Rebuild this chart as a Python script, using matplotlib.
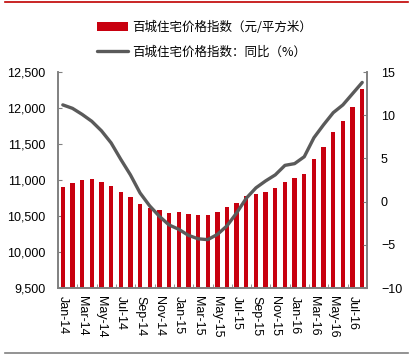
"""Recreation of the 100-city house price index chart."""
import numpy as np
from matplotlib import pyplot as plt
from matplotlib.lines import Line2D

plt.rcParams["font.family"] = ["Liberation Sans", "Noto Sans CJK SC", "DejaVu Sans"]

# months Jan-14 .. Aug-16
months = [
    "Jan-14", "Feb-14", "Mar-14", "Apr-14", "May-14", "Jun-14", "Jul-14", "Aug-14",
    "Sep-14", "Oct-14", "Nov-14", "Dec-14", "Jan-15", "Feb-15", "Mar-15", "Apr-15",
    "May-15", "Jun-15", "Jul-15", "Aug-15", "Sep-15", "Oct-15", "Nov-15", "Dec-15",
    "Jan-16", "Feb-16", "Mar-16", "Apr-16", "May-16", "Jun-16", "Jul-16", "Aug-16",
]

# price index, yuan / m2
price = [
    10899, 10954, 11000, 11014, 10972, 10917, 10829, 10768,
    10667, 10615, 10583, 10537, 10556, 10532, 10518, 10514,
    10560, 10620, 10676, 10778, 10810, 10838, 10893, 10972,
    11023, 11088, 11296, 11463, 11667, 11815, 12009, 12269,
]

# year on year change, %
yoy = [
    11.2, 10.8, 10.1, 9.3, 8.2, 6.8, 4.9, 3.1,
    1.0, -0.5, -1.7, -2.7, -3.2, -3.9, -4.3, -4.4,
    -3.8, -2.8, -1.3, 0.4, 1.6, 2.4, 3.1, 4.2,
    4.4, 5.2, 7.4, 8.9, 10.3, 11.2, 12.5, 13.8,
]

label_bar = "百城住宅价格指数（元/平方米）"
label_line = "百城住宅价格指数：同比（%）"

red = "#C8000F"
grey = "#5A5A5A"
spine_grey = "#808080"

fig = plt.figure(figsize=(4.19, 3.55), dpi=100)
ax = fig.add_axes([0.1384, 0.1887, 0.876 - 0.1384, 0.797 - 0.1887])
ax2 = ax.twinx()

x = np.arange(len(months))
bars = ax.bar(x, price, width=0.45, color=red, zorder=2)
(line,) = ax2.plot(x, yoy, color=grey, lw=2.4, solid_capstyle="round")

ax.set_xlim(-0.5, len(months) - 0.5)
ax.set_ylim(9500, 12500)
ax.set_yticks(np.arange(9500, 12501, 500))
ax.set_yticklabels([f"{v:,}" for v in range(9500, 12501, 500)])
ax2.set_ylim(-10, 15)
ax2.set_yticks(np.arange(-10, 16, 5))

ax.set_xticks(x[::2])
ax.set_xticklabels(months[::2], rotation=270)
ax.set_xticks(np.arange(-0.5, len(months), 2), minor=True)
ax.tick_params(axis="x", which="major", length=0, pad=6, labelsize=9)
ax.tick_params(axis="x", which="minor", direction="in", length=3, color=spine_grey)
ax.tick_params(axis="y", direction="in", length=3, color=spine_grey, pad=9, labelsize=9)
ax2.tick_params(axis="y", direction="in", length=3, color=spine_grey, pad=10, labelsize=9)

for a in (ax, ax2):
    a.spines["top"].set_visible(False)
    for side in ("left", "right", "bottom"):
        a.spines[side].set_color(spine_grey)
        a.spines[side].set_linewidth(1.2)

fig.legend(
    [bars, line],
    [label_bar, label_line],
    loc="upper left",
    bbox_to_anchor=(0.205, 0.974),
    frameon=False,
    handlelength=2.5,
    handletextpad=0.3,
    labelspacing=0.95,
    prop={"family": ["Noto Sans CJK SC", "DejaVu Sans"], "size": 9},
)

fig.add_artist(Line2D([0.012, 0.974], [0.994, 0.994], color="#C00000", lw=1.2))
fig.add_artist(Line2D([0.012, 0.974], [0.006, 0.006], color="#808080", lw=1.2))

fig.savefig("out.png", dpi=100)
